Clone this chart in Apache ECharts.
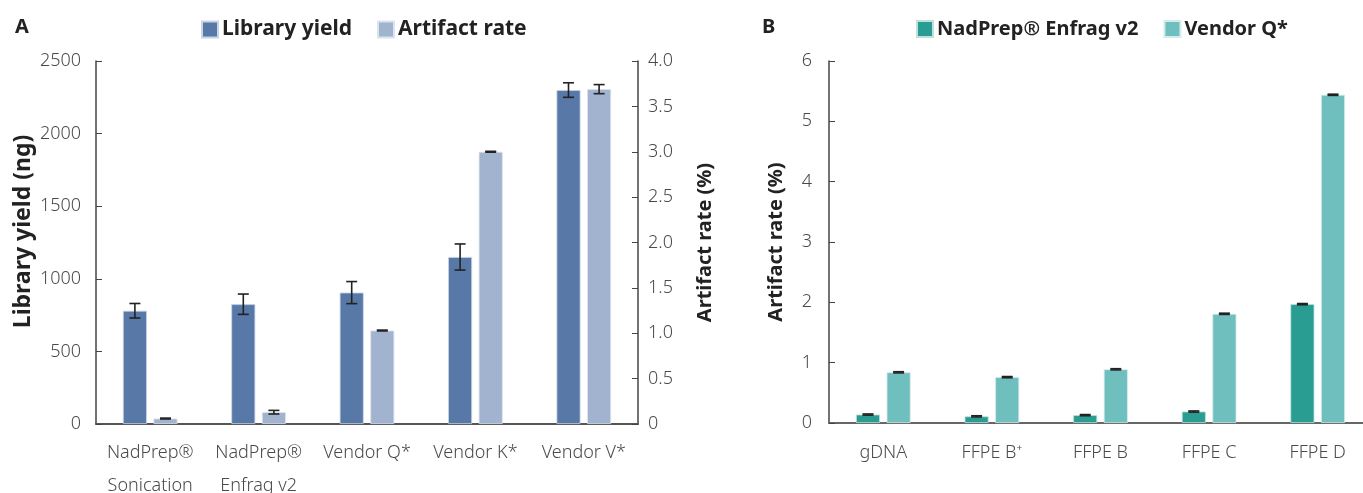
<!DOCTYPE html>
<html><head><meta charset="utf-8">
<script src="https://cdn.jsdelivr.net/npm/echarts@6/dist/echarts.min.js"></script>
<style>html,body{margin:0;padding:0;background:#fff}#c{width:1363px;height:493px}</style>
</head><body><div id="c"></div>
<script>
// Panel A
const catsA = ['NadPrep®\nSonication', 'NadPrep®\nEnfrag v2', 'Vendor Q*', 'Vendor K*', 'Vendor V*'];
const yieldVals = [780, 825, 905, 1150, 2300];
const yieldErr = [50, 70, 76, 90, 50];
const artifactVals = [0.06, 0.13, 1.03, 3.0, 3.69];
const artifactErr = [0.005, 0.02, 0.005, 0.005, 0.05];
const yieldTicks = {min: 0, max: 2500, interval: 500};
const rateTicksA = {min: 0, max: 4, interval: 0.5};
// Panel B
const catsB = ['gDNA', 'FFPE B⁺', 'FFPE B', 'FFPE C', 'FFPE D'];
const nadVals = [0.14, 0.11, 0.13, 0.19, 1.97];
const nadErr = [0.01, 0.01, 0.01, 0.01, 0.01];
const vqVals = [0.84, 0.76, 0.89, 1.81, 5.44];
const vqErr = [0.01, 0.01, 0.01, 0.01, 0.01];
const rateTicksB = {min: 0, max: 6, interval: 1};

const FONT = '"Noto Sans", sans-serif';
const C_YIELD = '#5879a7', C_ART = '#a1b3cf', C_NAD = '#2a9d93', C_VQ = '#6ebfbe';
const BAR_W = 24, BAR_GAP = 6.6;
const OFF = (BAR_W + BAR_GAP) / 2;

function errSeries(xi, yi, vals, errs, dir) {
  return {
    type: 'custom', xAxisIndex: xi, yAxisIndex: yi, z: 10, silent: true,
    data: vals.map((v, i) => [i, v, errs[i]]),
    renderItem: function (params, api) {
      const i = api.value(0), v = api.value(1), e = api.value(2);
      const c = api.coord([i, v]);
      const x = c[0] + dir * OFF;
      const top = api.coord([i, v + e])[1];
      const bot = api.coord([i, v - e])[1];
      const hw = 5.5;
      const st = {stroke: '#222', lineWidth: 1.6};
      return {type: 'group', children: [
        {type: 'line', shape: {x1: x, y1: top, x2: x, y2: bot}, style: st},
        {type: 'line', shape: {x1: x - hw, y1: top, x2: x + hw, y2: top}, style: st},
        {type: 'line', shape: {x1: x - hw, y1: bot, x2: x + hw, y2: bot}, style: st}
      ]};
    }
  };
}

const tickLbl = {fontFamily: FONT, fontSize: 18, color: '#4a4a4a', fontWeight: 300};
const nameStyle = {fontFamily: FONT, fontSize: 20, fontWeight: 'bold', color: '#222'};
const axLine = {show: true, lineStyle: {color: '#444', width: 1.5}};

const chart = echarts.init(document.getElementById('c'), null, {renderer: 'canvas'});
chart.setOption({
  animation: false,
  textStyle: {fontFamily: FONT},
  title: [
    {text: 'A', left: 10, top: 12, textStyle: {fontFamily: FONT, fontSize: 20, fontWeight: 'bold', color: '#222'}},
    {text: 'B', left: 757, top: 12, textStyle: {fontFamily: FONT, fontSize: 20, fontWeight: 'bold', color: '#222'}}
  ],
  legend: [
    {data: ['Library yield', 'Artifact rate'], left: 196, top: 14, itemWidth: 16, itemHeight: 16, itemGap: 25,
     icon: 'rect', textStyle: {fontFamily: FONT, fontSize: 21, fontWeight: 'bold', color: '#222', padding: [0, 0, 0, -1]}},
    {data: ['NadPrep® Enfrag v2', 'Vendor Q*'], left: 911, top: 14, itemWidth: 16, itemHeight: 16, itemGap: 25,
     icon: 'rect', textStyle: {fontFamily: FONT, fontSize: 20, fontWeight: 'bold', color: '#222', padding: [0, 0, 0, -1]}}
  ],
  grid: [
    {left: 96, right: 725, top: 61, bottom: 69, containLabel: false, outerBoundsMode: 'none'},
    {left: 829, right: -9, top: 61, bottom: 70, containLabel: false, outerBoundsMode: 'none'}
  ],
  xAxis: [
    {type: 'category', gridIndex: 0, data: catsA, axisTick: {show: false},
     axisLine: {show: true, lineStyle: {color: '#555', width: 2}},
     axisLabel: Object.assign({}, tickLbl, {margin: 12, lineHeight: 33, interval: 0})},
    {type: 'category', gridIndex: 1, data: catsB, axisTick: {show: false},
     axisLine: {show: true, lineStyle: {color: '#666', width: 2}},
     axisLabel: Object.assign({}, tickLbl, {margin: 13, lineHeight: 33, interval: 0})}
  ],
  yAxis: [
    {type: 'value', gridIndex: 0, position: 'left', min: yieldTicks.min, max: yieldTicks.max, interval: yieldTicks.interval,
     name: 'Library yield (ng)', nameLocation: 'middle', nameGap: 61,
     nameTextStyle: Object.assign({}, nameStyle, {fontSize: 23, padding: [0, 0, 0, 22]}),
     axisLine: axLine, axisTick: {show: true, inside: true, length: 6, lineStyle: {color: '#444'}},
     splitLine: {show: false}, axisLabel: Object.assign({}, tickLbl, {margin: 15, formatter: v => String(v)})},
    {type: 'value', gridIndex: 0, position: 'right', min: rateTicksA.min, max: rateTicksA.max, interval: rateTicksA.interval,
     name: 'Artifact rate (%)', nameLocation: 'middle', nameGap: 57, nameRotate: 90, nameTextStyle: nameStyle,
     axisLine: axLine, axisTick: {show: true, inside: true, length: 6, lineStyle: {color: '#444'}},
     splitLine: {show: false},
     axisLabel: Object.assign({}, tickLbl, {margin: 10, formatter: v => v === 0 ? '0' : v.toFixed(1)})},
    {type: 'value', gridIndex: 1, position: 'left', min: rateTicksB.min, max: rateTicksB.max, interval: rateTicksB.interval,
     name: 'Artifact rate (%)', nameLocation: 'middle', nameGap: 43, nameTextStyle: nameStyle,
     axisLine: axLine, axisTick: {show: true, inside: true, length: 6, lineStyle: {color: '#444'}},
     splitLine: {show: false}, axisLabel: Object.assign({}, tickLbl, {margin: 17})}
  ],
  series: [
    {name: 'Library yield', type: 'bar', xAxisIndex: 0, yAxisIndex: 0, data: yieldVals, barWidth: BAR_W, barGap: (BAR_GAP / BAR_W * 100) + '%',
     itemStyle: {color: C_YIELD, borderColor: '#c9d4e4', borderWidth: 0.8}},
    {name: 'Artifact rate', type: 'bar', xAxisIndex: 0, yAxisIndex: 1, data: artifactVals, barWidth: BAR_W, barGap: (BAR_GAP / BAR_W * 100) + '%',
     itemStyle: {color: C_ART, borderColor: '#dbe3ee', borderWidth: 0.8}},
    {name: 'NadPrep® Enfrag v2', type: 'bar', xAxisIndex: 1, yAxisIndex: 2, data: nadVals, barWidth: BAR_W, barGap: (BAR_GAP / BAR_W * 100) + '%',
     itemStyle: {color: C_NAD, borderColor: '#bfe0dd', borderWidth: 0.8}},
    {name: 'Vendor Q*', type: 'bar', xAxisIndex: 1, yAxisIndex: 2, data: vqVals, barWidth: BAR_W, barGap: (BAR_GAP / BAR_W * 100) + '%',
     itemStyle: {color: C_VQ, borderColor: '#d2ecec', borderWidth: 0.8}},
    errSeries(0, 0, yieldVals, yieldErr, -1),
    errSeries(0, 1, artifactVals, artifactErr, 1),
    errSeries(1, 2, nadVals, nadErr, -1),
    errSeries(1, 2, vqVals, vqErr, 1)
  ]
});
</script></body></html>
